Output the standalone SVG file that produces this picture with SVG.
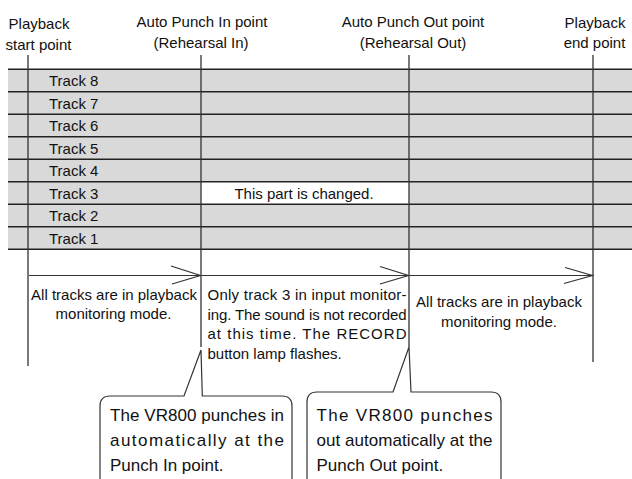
<svg xmlns="http://www.w3.org/2000/svg" width="632" height="479" viewBox="0 0 632 479">
<style>
text{font-family:"Liberation Sans",Arial,sans-serif;font-size:15px;fill:#111}
.c{text-anchor:middle}
.big{font-size:17px}
.row{fill:#d9d9d9}
.hl{stroke:#222;stroke-width:1.4;fill:none}
.vl{stroke:#333;stroke-width:1.3;fill:none}
.ar{stroke:#333;stroke-width:1.2;fill:none}
.co{stroke:#333;stroke-width:1.2;fill:#fff}
</style>
<rect width="632" height="479" fill="#fff"/>
<g id="tracks">
<rect class="row" x="8" y="69.3" width="624" height="180"/>
<rect x="201" y="181.8" width="208" height="22.5" fill="#fff"/>
<path class="hl" d="M8 69.3H632M8 91.8H632M8 114.3H632M8 136.8H632M8 159.3H632M8 181.8H632M8 204.3H632M8 226.8H632M8 249.3H632"/>
<text x="49" y="86.3">Track 8</text>
<text x="49" y="108.8">Track 7</text>
<text x="49" y="131.3">Track 6</text>
<text x="49" y="153.8">Track 5</text>
<text x="49" y="176.3">Track 4</text>
<text x="49" y="198.8">Track 3</text>
<text x="49" y="221.3">Track 2</text>
<text x="49" y="243.8">Track 1</text>
<text class="c" x="304" y="198.8">This part is changed.</text>
</g>
<g id="label-start">
<text class="c" x="39" y="28.5">Playback</text>
<text class="c" x="38.5" y="49.5">start point</text>
</g>
<g id="label-punch-in">
<text class="c" x="202" y="27">Auto Punch In point</text>
<text class="c" x="201" y="48">(Rehearsal In)</text>
</g>
<g id="label-punch-out">
<text class="c" x="413" y="27">Auto Punch Out point</text>
<text class="c" x="413" y="48">(Rehearsal Out)</text>
</g>
<g id="label-end">
<text class="c" x="595" y="27.5">Playback</text>
<text class="c" x="594.5" y="48">end point</text>
</g>
<g id="connectors">
<path class="vl" d="M28 55V366M201 55V347M409 55V347M593 55V362"/>
<path class="ar" d="M29 275.5H200.5M171 266L200.5 275.5L172 284"/>
<path class="ar" d="M202 275.5H408.5M380 266.5L408.5 275.5L380 284"/>
<path class="ar" d="M410 275.5H592.5M565 267.5L592.5 275.5L564 283.5"/>
</g>
<g id="text-playback-1">
<text class="c" x="114" y="300">All tracks are in playback</text>
<text class="c" x="113.5" y="318.5">monitoring mode.</text>
</g>
<g id="text-monitor">
<text x="207.5" y="300" textLength="199" lengthAdjust="spacing">Only track 3 in input monitor-</text>
<text x="207.5" y="319.5" textLength="199" lengthAdjust="spacing">ing. The sound is not recorded</text>
<text x="207.5" y="339" textLength="199" lengthAdjust="spacing">at this time. The RECORD</text>
<text x="207.5" y="358.5">button lamp flashes.</text>
</g>
<g id="text-playback-2">
<text class="c" x="499" y="307">All tracks are in playback</text>
<text class="c" x="499" y="327">monitoring mode.</text>
</g>
<g id="callout-in">
<path class="co" d="M100 482V406Q100 396 110 396H184L201 350L202.3 396H282Q292 396 292 406V482"/>
<text class="big" x="110" y="421" textLength="174" lengthAdjust="spacing">The VR800 punches in</text>
<text class="big" x="110" y="446" textLength="174" lengthAdjust="spacing">automatically at the</text>
<text class="big" x="110" y="471">Punch In point.</text>
</g>
<g id="callout-out">
<path class="co" d="M307 482V402Q307 392 317 392H393L409 347L411 392H491Q501 392 501 402V482"/>
<text class="big" x="316.5" y="421" textLength="176" lengthAdjust="spacing">The VR800 punches</text>
<text class="big" x="316.5" y="446" textLength="176" lengthAdjust="spacing">out automatically at the</text>
<text class="big" x="316.5" y="471">Punch Out point.</text>
</g>
</svg>
